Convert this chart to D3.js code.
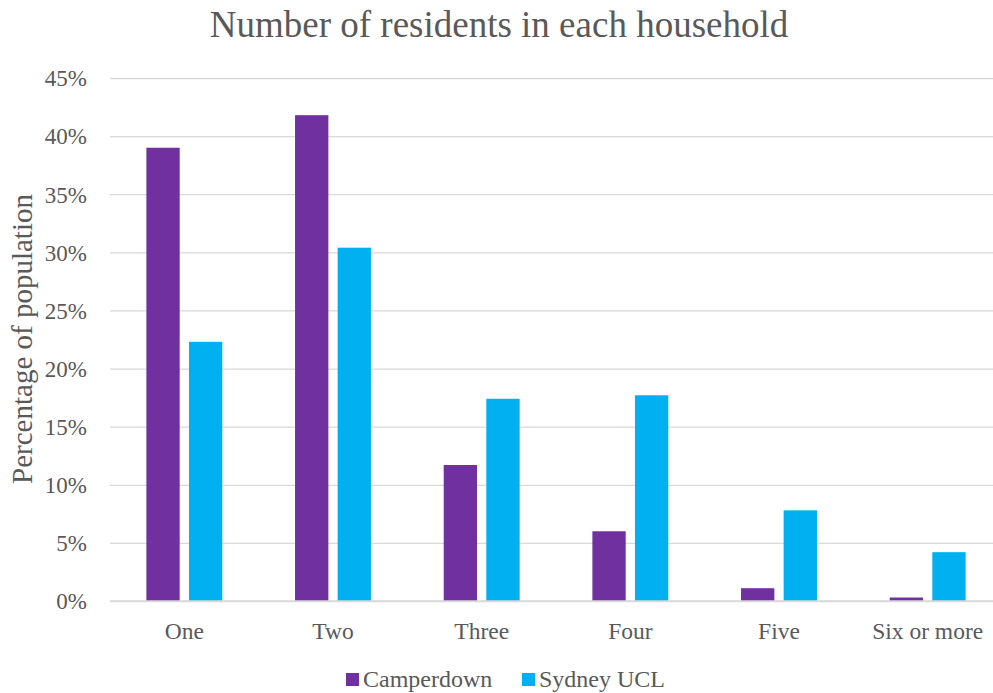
<!DOCTYPE html>
<html>
<head>
<meta charset="utf-8">
<script src="https://cdn.jsdelivr.net/npm/d3@7"></script>
<style>
  html, body { margin: 0; padding: 0; background: #fff; }
  svg { display: block; }
</style>
</head>
<body>
<svg id="chart" width="993" height="693"></svg>
<script>
// Household size categories and the share of households in each
const categories = ["One", "Two", "Three", "Four", "Five", "Six or more"];
const seriesNames = ["Camperdown", "Sydney UCL"];
const camperdown = [39.0, 41.8, 11.7, 6.0, 1.1, 0.3];
const sydneyUCL = [22.3, 30.4, 17.4, 17.7, 7.8, 4.2];
const yTicks = [0, 5, 10, 15, 20, 25, 30, 35, 40, 45];
const colors = ["#7030A0", "#00B0F0"];

const FONT = "Liberation Serif";
const svg = d3.select("#chart").attr("font-family", FONT);
const margin = { left: 110, right: 1002, top: 78, bottom: 601 };
const textColor = "#595959";

const x = d3.scaleBand().domain(categories).range([margin.left, margin.right]).paddingInner(0).paddingOuter(0);
const x1 = d3.scaleBand().domain(seriesNames).range([0, x.bandwidth()]).paddingInner(0.218).paddingOuter(0.854);
const y = d3.scaleLinear().domain([0, 45]).range([margin.bottom, margin.top]);

// Gridlines and percentage ticks
const yAxis = d3.axisLeft(y).tickValues(yTicks).tickSize(-(margin.right - margin.left)).tickFormat(d => d + "%").tickPadding(23);
const gy = svg.append("g").attr("transform", `translate(${margin.left},0)`).call(yAxis);
gy.attr("font-family", FONT).attr("font-size", 23);
gy.select(".domain").remove();
gy.selectAll(".tick line").attr("stroke", "#d9d9d9").attr("stroke-width", 1.3);
gy.selectAll(".tick text").attr("fill", textColor).attr("dy", "0.34em");

// Bars
const data = categories.map((c, i) => ({ cat: c, values: [camperdown[i], sydneyUCL[i]] }));
const groups = svg.append("g").selectAll("g").data(data).join("g")
  .attr("transform", d => `translate(${x(d.cat)},0)`);
groups.selectAll("rect").data(d => d.values.map((v, j) => ({ name: seriesNames[j], v, j })))
  .join("rect")
  .attr("x", d => x1(d.name))
  .attr("width", x1.bandwidth())
  .attr("y", d => y(d.v))
  .attr("height", d => y(0) - y(d.v))
  .attr("fill", d => colors[d.j]);

// Baseline
svg.append("line").attr("x1", margin.left).attr("x2", margin.right)
  .attr("y1", y(0)).attr("y2", y(0)).attr("stroke", "#d9d9d9").attr("stroke-width", 1.5);

// Category labels
const xAxis = d3.axisBottom(x).tickSize(0).tickPadding(21);
const gx = svg.append("g").attr("transform", `translate(0,${y(0)})`).call(xAxis);
gx.attr("font-family", FONT).attr("font-size", 23.5);
gx.select(".domain").remove();
gx.selectAll(".tick text").attr("fill", textColor);

// Title
svg.append("text").attr("x", 499).attr("y", 37).attr("text-anchor", "middle")
  .attr("fill", textColor).attr("font-size", 37).text("Number of residents in each household");

// Y axis title
svg.append("text").attr("transform", "translate(32,339) rotate(-90)").attr("text-anchor", "middle")
  .attr("fill", textColor).attr("font-size", 29).text("Percentage of population");

// Legend
const legend = svg.append("g");
const legendItems = [{ name: seriesNames[0], x: 346 }, { name: seriesNames[1], x: 522 }];
legendItems.forEach((it, i) => {
  legend.append("rect").attr("x", it.x).attr("y", 673).attr("width", 13).attr("height", 13).attr("fill", colors[i]);
  legend.append("text").attr("x", it.x + 17).attr("y", 687).attr("fill", textColor)
    .attr("font-size", 24).text(it.name);
});
</script>
</body>
</html>
